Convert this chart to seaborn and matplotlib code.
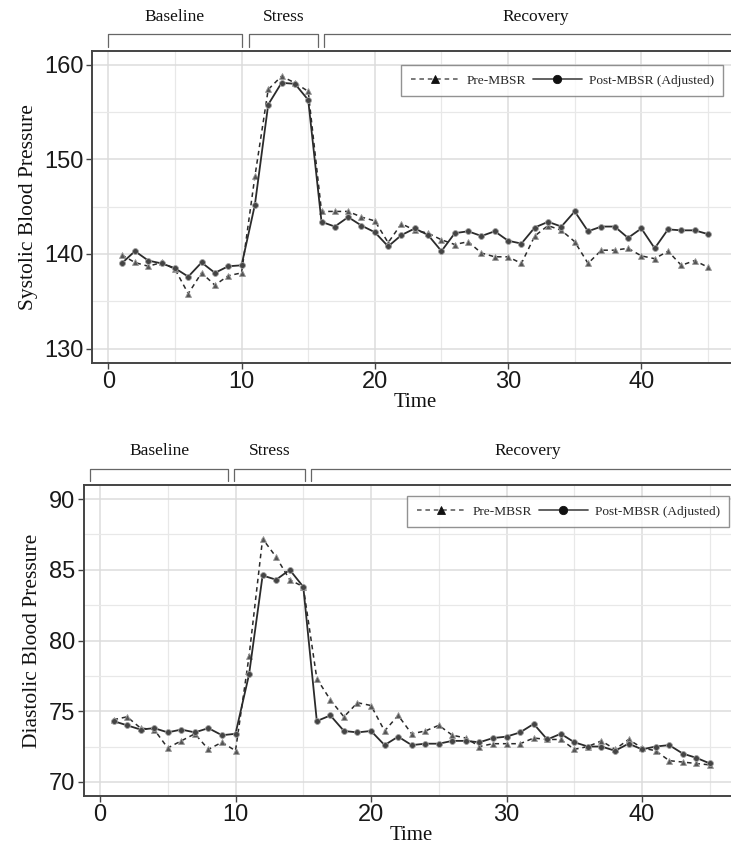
import matplotlib
matplotlib.use("Agg")
import matplotlib.pyplot as plt
import matplotlib.transforms as mtrans
from matplotlib.ticker import MultipleLocator
import seaborn as sns
import pandas as pd

# values
time = list(range(1, 46))

sys_pre = [139.9, 139.1, 138.7, 139.1, 138.4, 135.8, 138.0, 136.7, 137.7, 138.0,
           148.2, 157.4, 158.8, 158.1, 157.2,
           144.5, 144.5, 144.5, 143.9, 143.5, 141.2, 143.2, 142.5, 142.2, 141.5,
           141.0, 141.3, 140.1, 139.7, 139.7, 139.0, 141.9, 143.0, 142.5, 141.3,
           139.0, 140.4, 140.4, 140.6, 139.8, 139.5, 140.3, 138.8, 139.3, 138.6]
sys_post = [139.0, 140.3, 139.3, 139.0, 138.5, 137.6, 139.1, 138.0, 138.7, 138.8,
            145.2, 155.8, 158.1, 158.0, 156.3,
            143.4, 142.9, 143.9, 143.0, 142.3, 140.8, 142.0, 142.7, 142.0, 140.3,
            142.2, 142.4, 141.9, 142.4, 141.4, 141.1, 142.8, 143.4, 142.9, 144.5,
            142.4, 142.9, 142.9, 141.7, 142.7, 140.6, 142.6, 142.5, 142.5, 142.1]

dia_pre = [74.4, 74.6, 73.8, 73.7, 72.4, 72.9, 73.4, 72.3, 72.8, 72.2,
           78.9, 87.2, 85.9, 84.3, 83.8,
           77.3, 75.8, 74.6, 75.6, 75.4, 73.6, 74.7, 73.4, 73.6, 74.0,
           73.3, 73.1, 72.5, 72.7, 72.7, 72.7, 73.1, 73.0, 73.0, 72.3,
           72.5, 72.9, 72.3, 73.0, 72.4, 72.2, 71.5, 71.4, 71.3, 71.2]
dia_post = [74.3, 74.0, 73.7, 73.8, 73.5, 73.7, 73.5, 73.8, 73.3, 73.4,
            77.6, 84.6, 84.3, 85.0, 83.8,
            74.3, 74.7, 73.6, 73.5, 73.6, 72.6, 73.2, 72.6, 72.7, 72.7,
            72.9, 72.9, 72.8, 73.1, 73.2, 73.5, 74.1, 73.0, 73.4, 72.8,
            72.5, 72.5, 72.2, 72.7, 72.3, 72.5, 72.6, 72.0, 71.7, 71.3]

phase_labels = ["Baseline", "Stress", "Recovery"]
sys_phases = [(0.0, 10.0), (10.55, 15.7), (16.2, 48.0)]
dia_phases = [(-0.7, 9.45), (9.9, 15.15), (15.6, 47.6)]

sns.set_theme(style="whitegrid")
plt.rcParams["font.family"] = ["Liberation Serif", "DejaVu Serif"]

W, H = 731, 856
fig = plt.figure(figsize=(W / 100, H / 100), dpi=100)


def px_axes(left, top, width, height):
    return fig.add_axes([left / W, 1 - (top + height) / H, width / W, height / H])


def draw_panel(ax, pre, post, ylab, ylim, major, minor, phases, br_y, leg_y, txt_y, leg_anchor):
    df = pd.DataFrame({"Time": time, "pre": pre, "post": post})
    sns.lineplot(data=df, x="Time", y="pre", ax=ax, color="#2b2b2b", linestyle=(0, (3.0, 2.5)),
                 linewidth=1.1, marker="^", markersize=5, markerfacecolor="#555555",
                 markeredgecolor="#999999", markeredgewidth=0.6, label="Pre-MBSR")
    sns.lineplot(data=df, x="Time", y="post", ax=ax, color="#2b2b2b", linewidth=1.3,
                 marker="o", markersize=4.2, markerfacecolor="#444444",
                 markeredgecolor="#a0a0a0", markeredgewidth=0.6, label="Post-MBSR (Adjusted)")

    ax.set_xlim(-1.2, 47.2)
    ax.set_ylim(*ylim)
    ax.xaxis.set_major_locator(MultipleLocator(10))
    ax.xaxis.set_minor_locator(MultipleLocator(5))
    ax.yaxis.set_major_locator(MultipleLocator(major))
    ax.yaxis.set_minor_locator(MultipleLocator(minor))
    ax.grid(which="major", color="#dcdcdc", linewidth=1.1)
    ax.grid(which="minor", color="#e8e8e8", linewidth=0.9)
    ax.set_facecolor("white")
    for side in ["left", "bottom", "top"]:
        ax.spines[side].set_color("#444444")
        ax.spines[side].set_linewidth(1.4)
    ax.spines["right"].set_visible(False)
    ax.tick_params(axis="both", which="major", direction="out", length=4, width=1,
                   color="#444444", left=True, bottom=True, labelsize=17, pad=2,
                   labelcolor="#1a1a1a")
    for lab in ax.get_xticklabels() + ax.get_yticklabels():
        lab.set_fontfamily("Liberation Sans")
    ax.set_xlabel("Time", fontsize=15, labelpad=0, color="#111111")
    ax.set_ylabel(ylab, fontsize=15.5, labelpad=5, color="#111111")

    leg = ax.legend(loc="upper right", bbox_to_anchor=leg_anchor, bbox_transform=fig.transFigure,
                    ncol=2, fontsize=9.6, frameon=True, fancybox=False, borderaxespad=0,
                    handlelength=3.7, columnspacing=0.5, handletextpad=0.5, borderpad=0.7)
    leg.get_frame().set_edgecolor("#777777")
    leg.get_frame().set_linewidth(1.0)
    for h in leg.legend_handles:
        h.set_markerfacecolor("#111111")
        h.set_markeredgecolor("#111111")
        h.set_markersize(6)
        h.set_color("#555555")

    # phase brackets above the panel
    trans = mtrans.blended_transform_factory(ax.transData, ax.transAxes)
    for lab, (x0, x1) in zip(phase_labels, phases):
        ax.plot([x0, x0, x1, x1], [leg_y, br_y, br_y, leg_y], color="#666666",
                linewidth=0.9, transform=trans, clip_on=False)
        ax.text((x0 + x1) / 2, txt_y, lab, transform=trans, ha="center", va="center",
                fontsize=12.5, color="#111111")


ax1 = px_axes(92.3, 50.7, 645, 312)
ax2 = px_axes(83.7, 485, 656, 311)

draw_panel(ax1, sys_pre, sys_post, "Systolic Blood Pressure", (128.5, 161.5), 10, 5,
           sys_phases, (363 - 34.5) / 312, (363 - 47) / 312, (363 - 17) / 312,
           (723 / W, 1 - 65 / H))
draw_panel(ax2, dia_pre, dia_post, "Diastolic Blood Pressure", (69, 91), 5, 2.5,
           dia_phases, (796 - 469) / 311, (796 - 481) / 311, (796 - 451) / 311,
           (729 / W, 1 - 496 / H))

fig.savefig("out.png", dpi=100)
